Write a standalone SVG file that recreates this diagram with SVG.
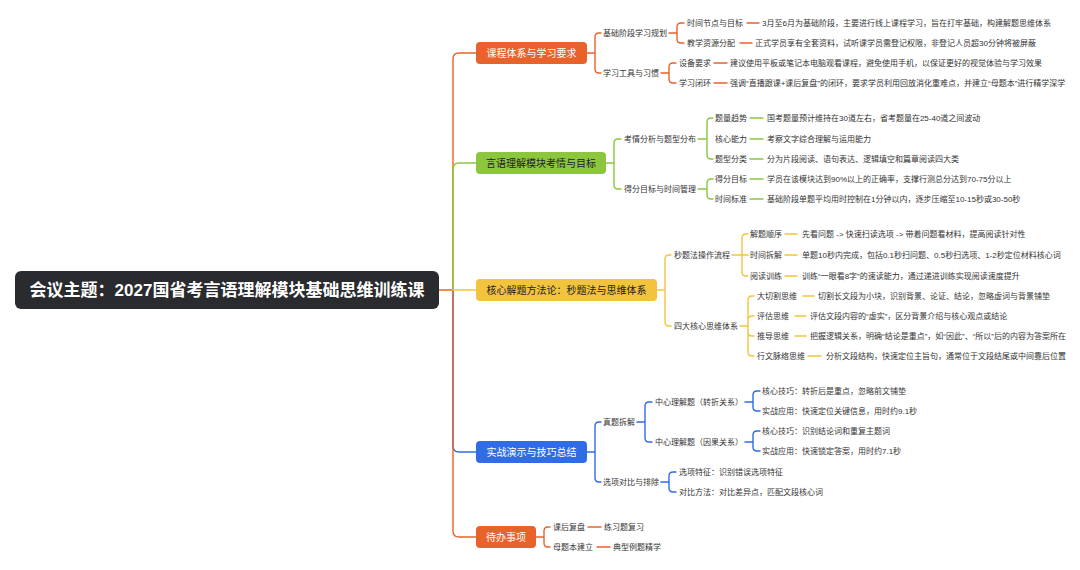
<svg xmlns="http://www.w3.org/2000/svg" width="1080" height="570" viewBox="0 0 1080 570">
<style>
text{font-family:"Liberation Sans","Noto Sans CJK SC",sans-serif;dominant-baseline:central}
.t{font-size:8px;fill:#333}
.l1{font-size:10px;text-anchor:middle}
.w{fill:#fff}
.d{fill:#222}
.c{fill:none;stroke-width:1.4;stroke-linecap:round}
.o{stroke:#E8622B}.g{stroke:#8CC63F}.y{stroke:#F2C43D}.b{stroke:#2F6CE5}
</style>
<rect width="1080" height="570" fill="#fff"/>
<g id="connectors">
<path class="c b" d="M453,290 V446 Q453,452 459,452 H476"/>
<path class="c o" d="M439,290 H453 M453,290 V531 Q453,537 459,537 H476"/>
<path class="c o" d="M453,290 V59 Q453,53 459,53 H476"/>
<path class="c g" d="M453,290 V169 Q453,163 459,163 H476"/>
<path class="c y" d="M453,290 H476"/>
<!-- branch 1 -->
<path class="c o" d="M587,53 H595 M595,53 V37 Q595,33 599,33 H601 M595,53 V69 Q595,73 599,73 H601"/>
<path class="c o" d="M669,33 H677 M677,33 V27 Q677,23 681,23 H684 M677,33 V39 Q677,43 681,43 H684"/>
<path class="c o" d="M661,73 H669 M669,73 V67 Q669,63 673,63 H676 M669,73 V79 Q669,83 673,83 H676"/>
<path class="c o" d="M747,23 H759 M740,43 H752 M714,63 H727 M714,83 H727"/>
<!-- branch 2 -->
<path class="c g" d="M606,163 H614 M614,163 V143 Q614,139 618,139 H621 M614,163 V185 Q614,189 618,189 H621"/>
<path class="c g" d="M698,139 H707 M707,139 V122 Q707,118 711,118 H713 M707,139 V155 Q707,159 711,159 H713"/>
<path class="c g" d="M698,189 H707 M707,189 V183 Q707,179 711,179 H713 M707,189 V195 Q707,199 711,199 H713"/>
<path class="c g" d="M750,118 H763 M750,139 H763 M750,159 H763 M750,179 H763 M750,199 H763"/>
<!-- branch 3 -->
<path class="c y" d="M657,290 H665 M665,290 V259 Q665,255 669,255 H671 M665,290 V322 Q665,326 669,326 H671"/>
<path class="c y" d="M732,255 H742 M742,255 V238 Q742,234 746,234 H748 M742,255 H748 M742,255 V272 Q742,276 746,276 H748"/>
<path class="c y" d="M740,326 H748 M748,326 V300 Q748,296 752,296 H754 M748,326 V320 Q748,316 752,316 H754 M748,326 V332 Q748,336 752,336 H754 M748,326 V352 Q748,356 752,356 H754"/>
<path class="c y" d="M785,234 H797 M785,255 H797 M785,276 H797 M803,296 H814 M795,316 H806 M795,336 H806 M808,356 H821"/>
<!-- branch 4 -->
<path class="c b" d="M587,452 H595 M595,452 V426 Q595,422 599,422 H601 M595,452 V478 Q595,482 599,482 H601"/>
<path class="c b" d="M637,422 H645 M645,422 V406 Q645,402 649,402 H652 M645,422 V438 Q645,442 649,442 H652"/>
<path class="c b" d="M745,402 H753 M753,402 V395 Q753,391 757,391 H760 M753,402 V407 Q753,411 757,411 H760"/>
<path class="c b" d="M745,442 H753 M753,442 V435 Q753,431 757,431 H760 M753,442 V447 Q753,451 757,451 H760"/>
<path class="c b" d="M661,482 H669 M669,482 V476 Q669,472 673,472 H676 M669,482 V488 Q669,492 673,492 H676"/>
<!-- branch 5 -->
<path class="c o" d="M536,537 H544 M544,537 V531 Q544,527 548,527 H550 M544,537 V543 Q544,547 548,547 H550"/>
<path class="c o" d="M588,527 H601 M597,547 H610"/>
</g>
<g id="root">
<rect x="15" y="271" width="424" height="38" rx="6" fill="#2A2B2E"/>
<text x="227" y="290" font-size="17" font-weight="bold" fill="#fff" text-anchor="middle">会议主题：2027国省考言语理解模块基础思维训练课</text>
</g>
<g id="n1">
<rect x="476" y="42" width="111" height="22" rx="4" fill="#E8622B"/>
<text class="l1 w" x="531.5" y="53">课程体系与学习要求</text>
<text class="t" x="603" y="33">基础阶段学习规划</text>
<text class="t" x="603" y="73">学习工具与习惯</text>
<text class="t" x="687" y="23">时间节点与目标</text>
<text class="t" x="687" y="43">教学资源分配</text>
<text class="t" x="679" y="63">设备要求</text>
<text class="t" x="679" y="83">学习闭环</text>
<text class="t" x="762" y="23">3月至6月为基础阶段，主要进行线上课程学习，旨在打牢基础，构建解题思维体系</text>
<text class="t" x="755" y="43">正式学员享有全套资料，试听课学员需登记权限，非登记人员超30分钟将被屏蔽</text>
<text class="t" x="730" y="63">建议使用平板或笔记本电脑观看课程，避免使用手机，以保证更好的视觉体验与学习效果</text>
<text class="t" x="730" y="83">强调“直播跟课+课后复盘”的闭环，要求学员利用回放消化重难点，并建立“母题本”进行精学深学</text>
</g>
<g id="n2">
<rect x="476" y="152" width="130" height="22" rx="4" fill="#8CC63F"/>
<text class="l1 d" x="541" y="163">言语理解模块考情与目标</text>
<text class="t" x="624" y="139">考情分析与题型分布</text>
<text class="t" x="624" y="189">得分目标与时间管理</text>
<text class="t" x="715" y="118">题量趋势</text>
<text class="t" x="715" y="139">核心能力</text>
<text class="t" x="715" y="159">题型分类</text>
<text class="t" x="715" y="179">得分目标</text>
<text class="t" x="715" y="199">时间标准</text>
<text class="t" x="767" y="118">国考题量预计维持在30道左右，省考题量在25-40道之间波动</text>
<text class="t" x="767" y="139">考察文字综合理解与运用能力</text>
<text class="t" x="767" y="159">分为片段阅读、语句表达、逻辑填空和篇章阅读四大类</text>
<text class="t" x="767" y="179">学员在该模块达到90%以上的正确率，支撑行测总分达到70-75分以上</text>
<text class="t" x="767" y="199">基础阶段单题平均用时控制在1分钟以内，逐步压缩至10-15秒或30-50秒</text>
</g>
<g id="n3">
<rect x="476" y="279" width="181" height="22" rx="4" fill="#F2C43D"/>
<text class="l1 d" x="566.5" y="290">核心解题方法论：秒题法与思维体系</text>
<text class="t" x="674" y="255">秒题法操作流程</text>
<text class="t" x="674" y="326">四大核心思维体系</text>
<text class="t" x="750" y="234">解题顺序</text>
<text class="t" x="750" y="255">时间拆解</text>
<text class="t" x="750" y="276">阅读训练</text>
<text class="t" x="802" y="234">先看问题 -&gt; 快速扫读选项 -&gt; 带着问题看材料，提高阅读针对性</text>
<text class="t" x="802" y="255">单题10秒内完成，包括0.1秒扫问题、0.5秒扫选项、1-2秒定位材料核心词</text>
<text class="t" x="802" y="276">训练“一眼看8字”的速读能力，通过递进训练实现阅读速度提升</text>
<text class="t" x="757" y="296">大切割思维</text>
<text class="t" x="757" y="316">评估思维</text>
<text class="t" x="757" y="336">推导思维</text>
<text class="t" x="757" y="356">行文脉络思维</text>
<text class="t" x="818" y="296">切割长文段为小块，识别背景、论证、结论，忽略虚词与背景铺垫</text>
<text class="t" x="810" y="316">评估文段内容的“虚实”，区分背景介绍与核心观点或结论</text>
<text class="t" x="810" y="336">把握逻辑关系，明确“结论是重点”，如“因此”、“所以”后的内容为答案所在</text>
<text class="t" x="826" y="356">分析文段结构，快速定位主旨句，通常位于文段结尾或中间靠后位置</text>
</g>
<g id="n4">
<rect x="476" y="441" width="111" height="22" rx="4" fill="#2F6CE5"/>
<text class="l1 w" x="531.5" y="452">实战演示与技巧总结</text>
<text class="t" x="603" y="422">真题拆解</text>
<text class="t" x="603" y="482">选项对比与排除</text>
<text class="t" x="655" y="402">中心理解题（转折关系）</text>
<text class="t" x="655" y="442">中心理解题（因果关系）</text>
<text class="t" x="762" y="391">核心技巧：转折后是重点，忽略前文铺垫</text>
<text class="t" x="762" y="411">实战应用：快速定位关键信息，用时约9.1秒</text>
<text class="t" x="762" y="431">核心技巧：识别结论词和重复主题词</text>
<text class="t" x="762" y="451">实战应用：快速锁定答案，用时约7.1秒</text>
<text class="t" x="679" y="472">选项特征：识别错误选项特征</text>
<text class="t" x="679" y="492">对比方法：对比差异点，匹配文段核心词</text>
</g>
<g id="n5">
<rect x="476" y="526" width="60" height="22" rx="4" fill="#E8622B"/>
<text class="l1 w" x="506" y="537">待办事项</text>
<text class="t" x="553" y="527">课后复盘</text>
<text class="t" x="553" y="547">母题本建立</text>
<text class="t" x="604" y="527">练习题复习</text>
<text class="t" x="613" y="547">典型例题精学</text>
</g>
</svg>
